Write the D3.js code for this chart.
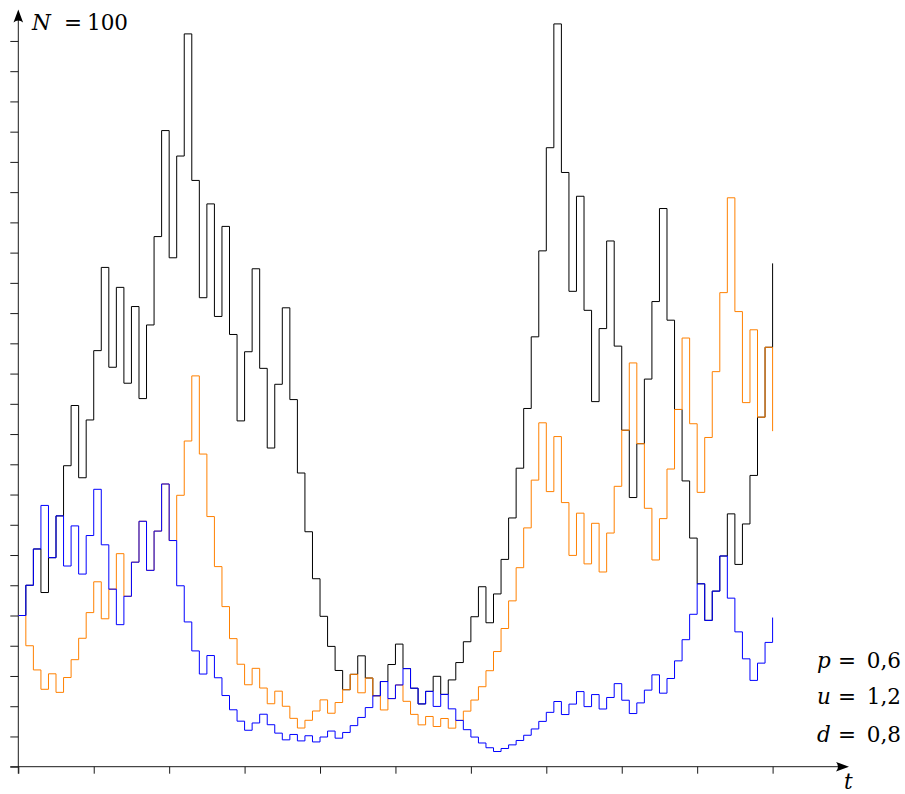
<!DOCTYPE html>
<html>
<head>
<meta charset="utf-8">
<script src="https://cdn.jsdelivr.net/npm/d3@7"></script>
<style>
  html, body { margin: 0; padding: 0; background: #fff; }
  svg { display: block; }
  .mathtext { font-family: "DejaVu Serif", "Liberation Serif", serif; }
</style>
</head>
<body>
<svg id="chart" width="905" height="794"></svg>
<script>
// Three simulated binomial price paths over N = 100 periods (start 5, u = 1.2, d = 0.8)
const blackPath = [
  5.000, 6.000, 7.200, 5.760, 6.912, 8.294, 9.953, 11.944, 9.555, 11.466,
  13.759, 16.511, 13.209, 15.851, 12.681, 15.217, 12.173, 14.608, 17.530, 21.036,
  16.829, 20.194, 24.233, 19.387, 15.509, 18.611, 14.889, 17.867, 14.293, 11.435,
  13.722, 16.466, 13.173, 10.538, 12.646, 15.175, 12.140, 9.712, 7.770, 6.216,
  4.973, 3.978, 3.182, 2.546, 3.055, 3.666, 2.933, 2.346, 2.816, 3.379,
  4.054, 3.244, 2.595, 2.076, 2.491, 2.989, 2.391, 2.870, 3.444, 4.132,
  4.959, 5.951, 4.760, 5.713, 6.855, 8.226, 9.871, 11.846, 14.215, 17.058,
  20.469, 24.563, 19.650, 15.720, 18.864, 15.092, 12.073, 14.488, 17.385, 13.908,
  11.127, 8.901, 10.682, 12.818, 15.382, 18.458, 14.766, 11.813, 9.450, 7.560,
  6.048, 4.839, 5.806, 6.968, 8.361, 6.689, 8.027, 9.632, 11.558, 13.870,
  16.644
];
const orangePath = [
  5.000, 4.000, 3.200, 2.560, 3.072, 2.458, 2.949, 3.539, 4.247, 5.096,
  6.115, 4.892, 5.871, 7.045, 5.636, 6.763, 8.116, 6.493, 7.791, 9.349,
  7.479, 8.975, 10.770, 12.924, 10.339, 8.272, 6.617, 5.294, 4.235, 3.388,
  2.710, 3.253, 2.602, 2.082, 2.498, 1.998, 1.599, 1.279, 1.535, 1.842,
  2.210, 1.768, 2.122, 2.546, 3.055, 2.444, 2.933, 2.346, 1.877, 2.252,
  2.703, 2.162, 1.730, 1.384, 1.661, 1.329, 1.594, 1.275, 1.531, 1.837,
  2.204, 2.645, 3.174, 3.808, 4.570, 5.484, 6.581, 7.897, 9.477, 11.372,
  9.097, 10.917, 8.734, 6.987, 8.384, 6.707, 8.049, 6.439, 7.727, 9.272,
  11.127, 13.352, 10.682, 8.545, 6.836, 8.204, 9.844, 11.813, 14.176, 11.341,
  9.072, 10.887, 13.064, 15.677, 18.813, 15.050, 12.040, 14.448, 11.558, 13.870,
  11.096
];
const bluePath = [
  5.000, 6.000, 7.200, 8.640, 6.912, 8.294, 6.636, 7.963, 6.370, 7.644,
  9.173, 7.338, 5.871, 4.697, 5.636, 6.763, 8.116, 6.493, 7.791, 9.349,
  7.479, 5.983, 4.787, 3.829, 3.064, 3.676, 2.941, 2.353, 1.882, 1.506,
  1.205, 1.446, 1.735, 1.388, 1.110, 0.888, 1.066, 0.853, 1.023, 0.819,
  0.982, 1.179, 0.943, 1.132, 1.358, 1.629, 1.955, 2.346, 2.816, 2.252,
  2.703, 3.244, 2.595, 2.076, 2.491, 1.993, 2.391, 1.913, 1.531, 1.224,
  0.980, 0.784, 0.627, 0.502, 0.602, 0.722, 0.867, 1.040, 1.248, 1.498,
  1.797, 2.156, 1.725, 2.070, 2.484, 1.987, 2.385, 1.908, 2.289, 2.747,
  2.198, 1.758, 2.110, 2.532, 3.038, 2.431, 2.917, 3.500, 4.200, 5.040,
  6.048, 4.839, 5.806, 6.968, 5.574, 4.459, 3.567, 2.854, 3.425, 4.110,
  4.932
];
const seriesColors = ["#000000", "#ff8000", "#0000ff"];
const xTickValues = [0, 10, 20, 30, 40, 50, 60, 70, 80, 90, 100];
const yTickValues = [0, 1, 2, 3, 4, 5, 6, 7, 8, 9, 10, 11, 12, 13, 14, 15, 16, 17, 18, 19, 20, 21, 22, 23, 24];
const parameterLines = [["p", "0,6"], ["u", "1,2"], ["d", "0,8"]];
const stepCount = 100;

const svg = d3.select("#chart");

const x = d3.scaleLinear().domain([0, 100]).range([18.3, 772.6]);
const y = d3.scaleLinear().domain([0, 25]).range([766.7, 10.7]);

const axisColor = "#1a1a1a";

// y ticks (pointing left) from the library axis
const yAxis = svg.append("g")
  .attr("transform", `translate(${x(0)},0)`)
  .call(d3.axisLeft(y).tickValues(yTickValues).tickSize(8).tickFormat(""));
yAxis.select(".domain").remove();
yAxis.selectAll(".tick line").attr("stroke", axisColor).attr("stroke-width", 1);

// x ticks (pointing down)
const xAxis = svg.append("g")
  .attr("transform", `translate(0,${y(0)})`)
  .call(d3.axisBottom(x).tickValues(xTickValues).tickSize(7).tickFormat(""));
xAxis.select(".domain").remove();
xAxis.selectAll(".tick line").attr("stroke", axisColor).attr("stroke-width", 1);

// axis lines with arrow tips
const x0 = x(0), y0 = y(0);
const xTip = 849, yTip = 9.5;
svg.append("line")
  .attr("x1", x0 - 8).attr("y1", y0).attr("x2", xTip - 4).attr("y2", y0)
  .attr("stroke", axisColor).attr("stroke-width", 1);
svg.append("line")
  .attr("x1", x0).attr("y1", y0 + 7).attr("x2", x0).attr("y2", yTip + 4)
  .attr("stroke", axisColor).attr("stroke-width", 1);
svg.append("path")
  .attr("d", `M${xTip},${y0} L${xTip - 13},${y0 - 4.8} Q${xTip - 9},${y0} ${xTip - 13},${y0 + 4.8} Z`)
  .attr("fill", "#000");
svg.append("path")
  .attr("d", `M${x0},${yTip} L${x0 - 4.8},${yTip + 13} Q${x0},${yTip + 9} ${x0 + 4.8},${yTip + 13} Z`)
  .attr("fill", "#000");

// price paths as step functions
const line = d3.line()
  .x((d, i) => x(i))
  .y(d => y(d))
  .curve(d3.curveStepAfter);

[blackPath, orangePath, bluePath].forEach((values, k) => {
  svg.append("path")
    .datum(values.slice(0, stepCount + 1))
    .attr("d", line)
    .attr("fill", "none")
    .attr("stroke", seriesColors[k])
    .attr("stroke-width", 1)
    .attr("stroke-linejoin", "miter");
});

// labels: symbol, equals sign and value placed separately (math spacing)
const fs = 21.5;
function mathLabel(sym, val, symX, eqX, valEnd, base) {
  svg.append("text").attr("class", "mathtext").attr("x", symX).attr("y", base)
    .attr("font-size", fs).attr("font-style", "italic").text(sym);
  svg.append("text").attr("class", "mathtext").attr("x", eqX).attr("y", base)
    .attr("text-anchor", "middle").attr("font-size", fs).text("=");
  svg.append("text").attr("class", "mathtext").attr("x", valEnd).attr("y", base)
    .attr("text-anchor", "end").attr("font-size", fs).text(val);
}

mathLabel("N", "100", 32, 73, 128, 29.5);

svg.append("text").attr("class", "mathtext").attr("x", 844).attr("y", 789)
  .attr("font-size", fs).attr("font-style", "italic").text("t");

const paramBase = [668, 704, 742];
parameterLines.forEach(([sym, val], i) => {
  mathLabel(sym, val, 817, 847, 901, paramBase[i]);
});
</script>
</body>
</html>
